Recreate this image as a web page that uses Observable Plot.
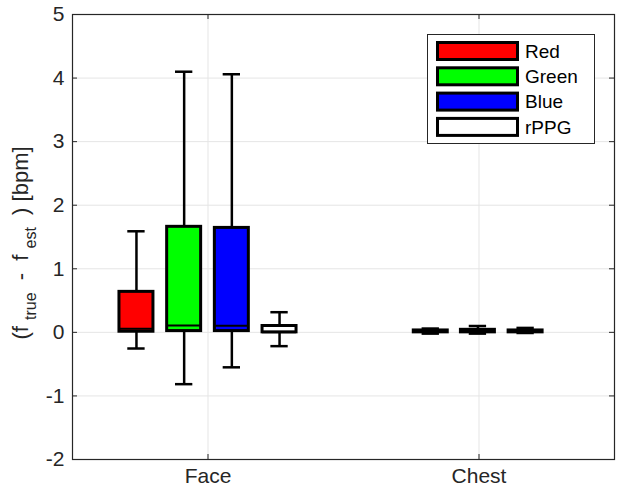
<!DOCTYPE html>
<html>
<head>
<meta charset="utf-8">
<script src="https://cdn.jsdelivr.net/npm/d3@7"></script>
<script src="https://cdn.jsdelivr.net/npm/@observablehq/plot@0.6"></script>
<style>
  html, body { margin: 0; padding: 0; background: #fff; }
  #chart svg { display: block; }
</style>
</head>
<body>
<div id="chart"></div>
<script>
// ---- data ----
const categories = ["Face", "Chest"];
const seriesNames = ["Red", "Green", "Blue", "rPPG"];
const seriesColors = ["#ff0000", "#00ff00", "#0000ff", "#ffffff"];
const yTicks = [-2, -1, 0, 1, 2, 3, 4, 5];

const boxCategory = ["Face", "Face", "Face", "Face", "Chest", "Chest", "Chest"];
const boxSeries   = ["Red", "Green", "Blue", "rPPG", "Red", "Green", "Blue"];
const boxOffset   = [-0.264, -0.088, 0.088, 0.264, -0.178, -0.004, 0.172];
const lowerWhisker = [-0.254, -0.815, -0.55, -0.217, -0.02, -0.02, -0.01];
const q1Values     = [0.01, 0.02, 0.02, 0.0, 0.0, 0.0, 0.0];
const medianValues = [0.055, 0.108, 0.105, 0.0, 0.01, 0.02, 0.015];
const q3Values     = [0.637, 1.66, 1.643, 0.10, 0.03, 0.04, 0.03];
const upperWhisker = [1.59, 4.10, 4.06, 0.317, 0.06, 0.10, 0.07];

// ---- layout constants (style) ----
const W = 623, H = 494;
const mL = 72, mR = 9, mT = 14, mB = 35;
const boxHalf = 0.0627;
const capHalf = 0.032;
const ink = "#262626";
const font = "'Liberation Sans', Arial, Helvetica, sans-serif";

const boxes = boxCategory.map((c, i) => ({
  category: c,
  series: boxSeries[i],
  pos: categories.indexOf(c) + 1 + boxOffset[i],
  lo: lowerWhisker[i],
  q1: q1Values[i],
  med: medianValues[i],
  q3: q3Values[i],
  hi: upperWhisker[i],
  color: seriesColors[seriesNames.indexOf(boxSeries[i])]
}));

const plotW = W - mL - mR, plotH = H - mT - mB;
const catPos = categories.map((c, i) => i + 1);

const chart = Plot.plot({
  width: W,
  height: H,
  marginLeft: mL,
  marginRight: mR,
  marginTop: mT,
  marginBottom: mB,
  style: { fontFamily: font, color: ink, background: "#fff" },
  x: { type: "linear", domain: [0.5, categories.length + 0.5] },
  y: { type: "linear", domain: [-2, 5] },
  marks: [
    // grid
    Plot.ruleY(yTicks, { stroke: "#e5e5e5", strokeWidth: 1 }),
    Plot.ruleX(catPos, { stroke: "#e5e5e5", strokeWidth: 1 }),
    // whiskers
    Plot.ruleX(boxes, { x: "pos", y1: "q3", y2: "hi", stroke: "#000", strokeWidth: 2.5 }),
    Plot.ruleX(boxes, { x: "pos", y1: "lo", y2: "q1", stroke: "#000", strokeWidth: 2.5 }),
    Plot.ruleY(boxes, { y: "hi", x1: d => d.pos - capHalf, x2: d => d.pos + capHalf, stroke: "#000", strokeWidth: 2.5 }),
    Plot.ruleY(boxes, { y: "lo", x1: d => d.pos - capHalf, x2: d => d.pos + capHalf, stroke: "#000", strokeWidth: 2.5 }),
    // boxes
    Plot.rect(boxes, { x1: d => d.pos - boxHalf, x2: d => d.pos + boxHalf, y1: "q1", y2: "q3", fill: "color", stroke: "#000", strokeWidth: 3 }),
    // medians
    Plot.ruleY(boxes, { y: "med", x1: d => d.pos - boxHalf, x2: d => d.pos + boxHalf, stroke: "#000", strokeWidth: 2 }),
    // axes
    Plot.axisY(yTicks, { anchor: "left", tickSize: 0, tickPadding: 8, fontSize: 21, tickFormat: d => String(d), label: null }),
    Plot.axisX(catPos, { anchor: "bottom", tickSize: 0, tickPadding: 9, fontSize: 21, tickFormat: d => categories[d - 1], label: null }),
    // inward ticks
    Plot.tickY(yTicks, { stroke: ink, insetRight: plotW - 5 }),
    Plot.tickY(yTicks, { stroke: ink, insetLeft: plotW - 5 }),
    Plot.tickX(catPos, { stroke: ink, insetTop: plotH - 5 }),
    Plot.tickX(catPos, { stroke: ink, insetBottom: plotH - 5 }),
    Plot.frame({ stroke: ink, strokeWidth: 1.2 })
  ]
});

document.getElementById("chart").appendChild(chart);

const svg = d3.select(chart);

// y-axis label with subscripts
const yl = svg.append("text")
  .attr("transform", "translate(28,243) rotate(-90)")
  .attr("text-anchor", "middle")
  .attr("font-family", font)
  .attr("font-size", 22)
  .attr("fill", ink)
  .style("white-space", "pre");
yl.append("tspan").text("(f ");
yl.append("tspan").attr("font-size", 16).attr("dy", 8).text("true");
yl.append("tspan").attr("dy", -8).text("  -  f ");
yl.append("tspan").attr("font-size", 16).attr("dy", 8).text("est");
yl.append("tspan").attr("dy", -8).text("  ) [bpm]");

// legend
const lg = svg.append("g").attr("font-family", font).attr("text-anchor", "start");
lg.append("rect").attr("x", 427.5).attr("y", 34.5).attr("width", 167).attr("height", 109)
  .attr("fill", "#fff").attr("stroke", ink).attr("stroke-width", 1);
seriesNames.forEach((name, i) => {
  const cy = 51 + i * 25.3;
  lg.append("rect").attr("x", 437.5).attr("y", cy - 8.5).attr("width", 80).attr("height", 17)
    .attr("fill", seriesColors[i]).attr("stroke", "#000").attr("stroke-width", 3);
  lg.append("text").attr("x", 525).attr("y", cy).attr("dy", "0.36em").attr("text-anchor", "start")
    .attr("font-size", 19).attr("fill", "#000").text(name);
});
</script>
</body>
</html>
